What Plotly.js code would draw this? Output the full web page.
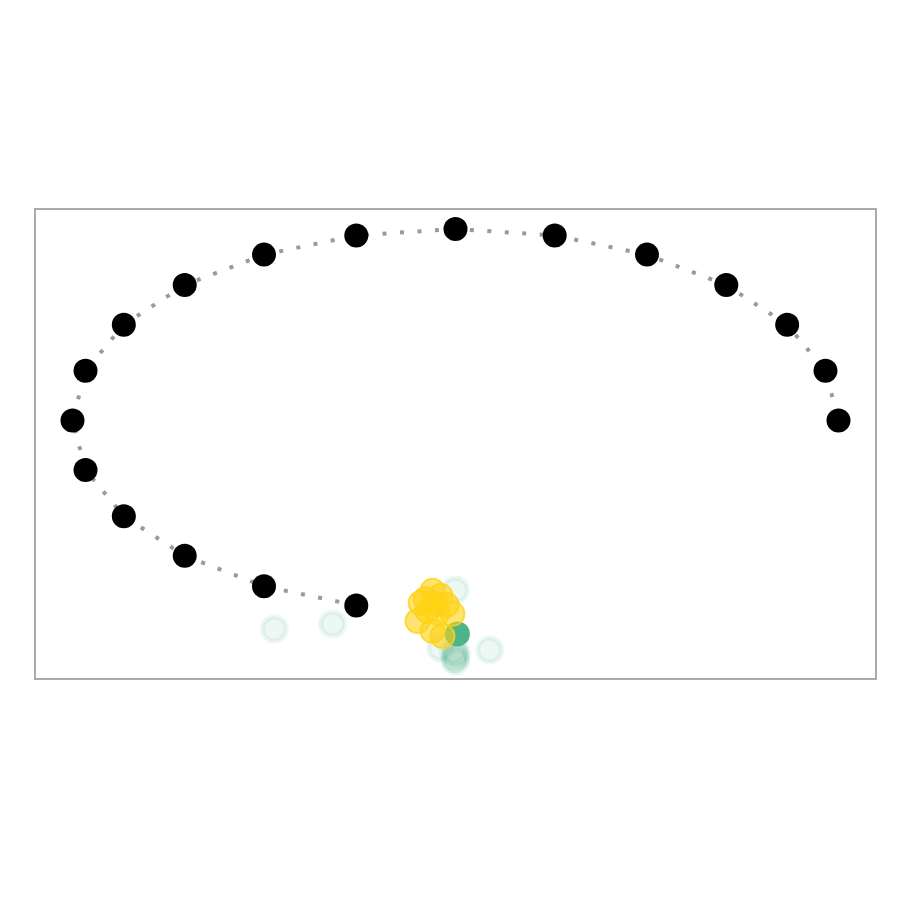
<!DOCTYPE html>
<html>
<head>
<meta charset="utf-8">
<script src="https://cdn.plot.ly/plotly-3.0.1.min.js"></script>
<style>html,body{margin:0;padding:0;background:#fff;}#chart{width:900px;height:900px;}</style>
</head>
<body>
<div id="chart"></div>
<script>
// Path points (black)
const pathX = [-0.259,-0.5,-0.707,-0.866,-0.966,-1,-0.966,-0.866,-0.707,-0.5,-0.259,0,0.259,0.5,0.707,0.866,0.966,1];
const pathY = [-0.966,-0.866,-0.707,-0.5,-0.259,0,0.259,0.5,0.707,0.866,0.966,1,0.966,0.866,0.707,0.5,0.259,0];

// Faint green points
const fadedX = [-0.473,-0.321,0,0.089,-0.039,-0.005,0,0,0.003,-0.002];
const fadedY = [-1.089,-1.063,-0.885,-1.199,-1.188,-1.204,-1.230,-1.257,-1.215,-1.245];

// Highlighted green point
const currentX = [0.005];
const currentY = [-1.115];

// Yellow cluster
const yellowX = [-0.099,-0.060,-0.034,-0.091,-0.060,-0.039,-0.008,-0.047,-0.073,-0.052,-0.023,-0.078];
const yellowY = [-1.047,-1.099,-1.126,-0.953,-0.890,-0.916,-1.010,-1.005,-0.995,-0.958,-0.963,-0.932];

const traces = [
  {x: fadedX, y: fadedY, mode: 'markers', type: 'scatter', hoverinfo: 'skip',
   marker: {size: 24, color: 'rgba(77,179,138,0.10)', line: {color: 'rgba(77,179,138,0.10)', width: 5}}},
  {x: pathX, y: pathY, mode: 'lines+markers', type: 'scatter',
   line: {color: '#9a9a9a', width: 4, dash: '4px,13.5px'},
   marker: {size: 24, color: '#000000'}},
  {x: currentX, y: currentY, mode: 'markers', type: 'scatter',
   marker: {size: 25, color: '#4CB38A'}},
  {x: yellowX, y: yellowY, mode: 'markers', type: 'scatter',
   marker: {size: 24, color: 'rgba(255,210,20,0.6)', line: {color: 'rgba(255,210,20,0.8)', width: 2}}}
];

const layout = {
  width: 900, height: 900,
  margin: {l: 36, r: 25, t: 210, b: 222},
  showlegend: false,
  paper_bgcolor: '#ffffff', plot_bgcolor: '#ffffff',
  xaxis: {range: [-1.0953, 1.0953], showgrid: false, zeroline: false, showticklabels: false, ticks: '',
          showline: true, mirror: true, linecolor: '#aaaaaa', linewidth: 2},
  yaxis: {range: [-1.345, 1.099], showgrid: false, zeroline: false, showticklabels: false, ticks: '',
          showline: true, mirror: true, linecolor: '#aaaaaa', linewidth: 2}
};

Plotly.newPlot('chart', traces, layout, {displayModeBar: false, staticPlot: true});
</script>
</body>
</html>
